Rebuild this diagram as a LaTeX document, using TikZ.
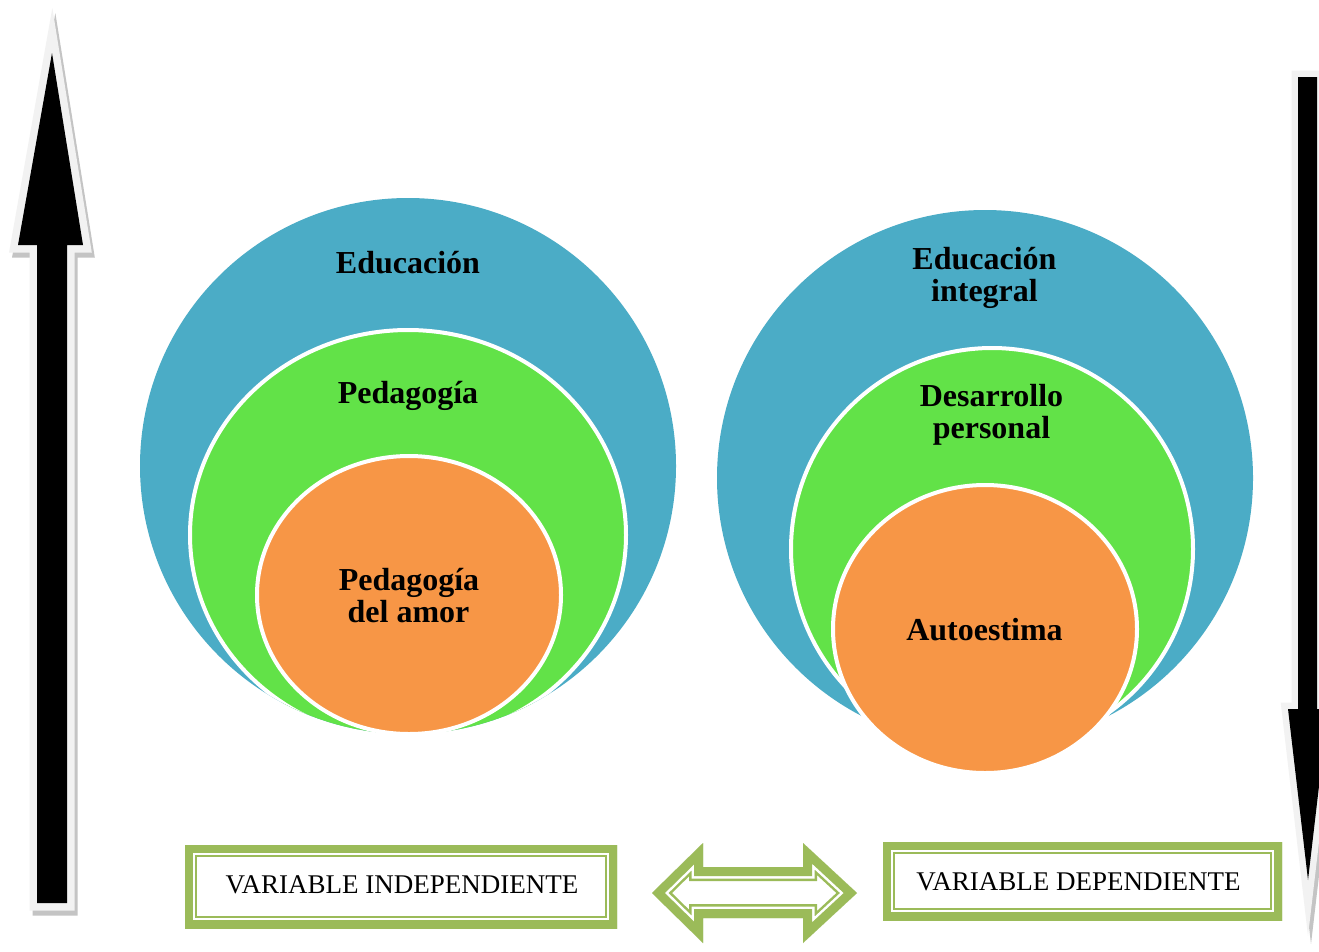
\documentclass[tikz,border=0pt]{standalone}
\usepackage{fontspec}
\setmainfont{Liberation Serif}
\definecolor{cblue}{HTML}{4BACC6}
\definecolor{cgreen}{HTML}{62E248}
\definecolor{corange}{HTML}{F79646}
\definecolor{olive}{HTML}{9BBB59}
\definecolor{lgray}{HTML}{F2F2F2}
\definecolor{sgray}{HTML}{C4C4C4}
\begin{document}
\begin{tikzpicture}[x=1pt,y=-1pt, line join=miter, miter limit=12,
  lbl/.style={font=\fontsize{32}{33}\selectfont\bfseries, anchor=base, inner sep=0pt},
  vlbl/.style={font=\fontsize{27}{30}\selectfont, anchor=base, inner sep=0pt},
  ring/.style={draw=white, line width=4pt}]
\useasboundingbox[fill=white] (0,0) rectangle (1319,951);

% ---------- left vertical arrow (up) ----------
\filldraw[sgray, line width=15pt, shift={(3,5)}]
  (52,53) -- (83,245) -- (67,245) -- (67,903) -- (37,903) -- (37,245) -- (18,245) -- cycle;
\filldraw[lgray, line width=15pt]
  (52,53) -- (83,245) -- (67,245) -- (67,903) -- (37,903) -- (37,245) -- (18,245) -- cycle;
\fill[black]
  (52,53) -- (83,245) -- (67,245) -- (67,903) -- (37,903) -- (37,245) -- (18,245) -- cycle;

% ---------- right vertical arrow (down) ----------
\filldraw[sgray, line width=13pt, shift={(3,8)}]
  (1298,77) -- (1317,77) -- (1317,709) -- (1328,709) -- (1308,880) -- (1288,709) -- (1298,709) -- cycle;
\filldraw[lgray, line width=13pt]
  (1298,77) -- (1317,77) -- (1317,709) -- (1328,709) -- (1308,880) -- (1288,709) -- (1298,709) -- cycle;
\fill[black]
  (1298,77) -- (1317,77) -- (1317,709) -- (1328,709) -- (1308,880) -- (1288,709) -- (1298,709) -- cycle;

% ---------- left target ----------
\fill[cblue] (408,466) circle[radius=268pt];
\begin{scope}
  \clip (408,466) circle[radius=268pt];
  \filldraw[fill=cgreen, ring] (408,535) ellipse[x radius=218pt, y radius=205pt];
\end{scope}
\filldraw[fill=corange, ring] (409,595) ellipse[x radius=152pt, y radius=139pt];

\node[lbl] (l1) at (408,273) {Educación};
\node[lbl] (l2) at (408,403) {Pedagogía};
\node[lbl] (l3a) at (409,590) {Pedagogía};
\node[lbl] (l3b) at (408.5,622) {del amor};

% ---------- right target ----------
\fill[cblue] (985,478) circle[radius=268pt];
\begin{scope}
  \clip (985,478) circle[radius=268pt];
  \filldraw[fill=cgreen, ring] (992,549) circle[radius=201pt];
\end{scope}
\filldraw[fill=corange, ring] (985,629) ellipse[x radius=152pt, y radius=144pt];

\node[lbl] (r1a) at (984.5,269) {Educación};
\node[lbl] (r1b) at (984.5,301) {integral};
\node[lbl] (r2a) at (991.5,406) {Desarrollo};
\node[lbl] (r2b) at (991.5,438) {personal};
\node[lbl] (r3) at (984.5,640) {Autoestima};

% ---------- boxes ----------
\begin{scope}
  \clip (185,845) rectangle (617,928);
  \draw[olive, line width=24pt] (185,845) rectangle (617,928);
  \draw[white, line width=20pt] (185,845) rectangle (617,928);
  \draw[olive, line width=16pt] (185,845) rectangle (617,928);
\end{scope}
\node[vlbl] (vi) at (402,893) {VARIABLE INDEPENDIENTE};

\begin{scope}
  \clip (883,842) rectangle (1282,920);
  \draw[olive, line width=24pt] (883,842) rectangle (1282,920);
  \draw[white, line width=20pt] (883,842) rectangle (1282,920);
  \draw[olive, line width=16pt] (883,842) rectangle (1282,920);
\end{scope}
\node[vlbl] (vd) at (1078.5,890) {VARIABLE DEPENDIENTE};

% ---------- double arrow ----------
\begin{scope}
  \clip (652,893) -- (703,843) -- (703,867) -- (803,867) -- (803,843) -- (857,893)
        -- (803,943) -- (803,918) -- (703,918) -- (703,943) -- cycle;
  \draw[olive, line width=28pt] (652,893) -- (703,843) -- (703,867) -- (803,867) -- (803,843) -- (857,893)
        -- (803,943) -- (803,918) -- (703,918) -- (703,943) -- cycle;
  \draw[white, line width=23pt] (652,893) -- (703,843) -- (703,867) -- (803,867) -- (803,843) -- (857,893)
        -- (803,943) -- (803,918) -- (703,918) -- (703,943) -- cycle;
  \draw[olive, line width=18pt] (652,893) -- (703,843) -- (703,867) -- (803,867) -- (803,843) -- (857,893)
        -- (803,943) -- (803,918) -- (703,918) -- (703,943) -- cycle;
\end{scope}
\end{tikzpicture}
\end{document}
